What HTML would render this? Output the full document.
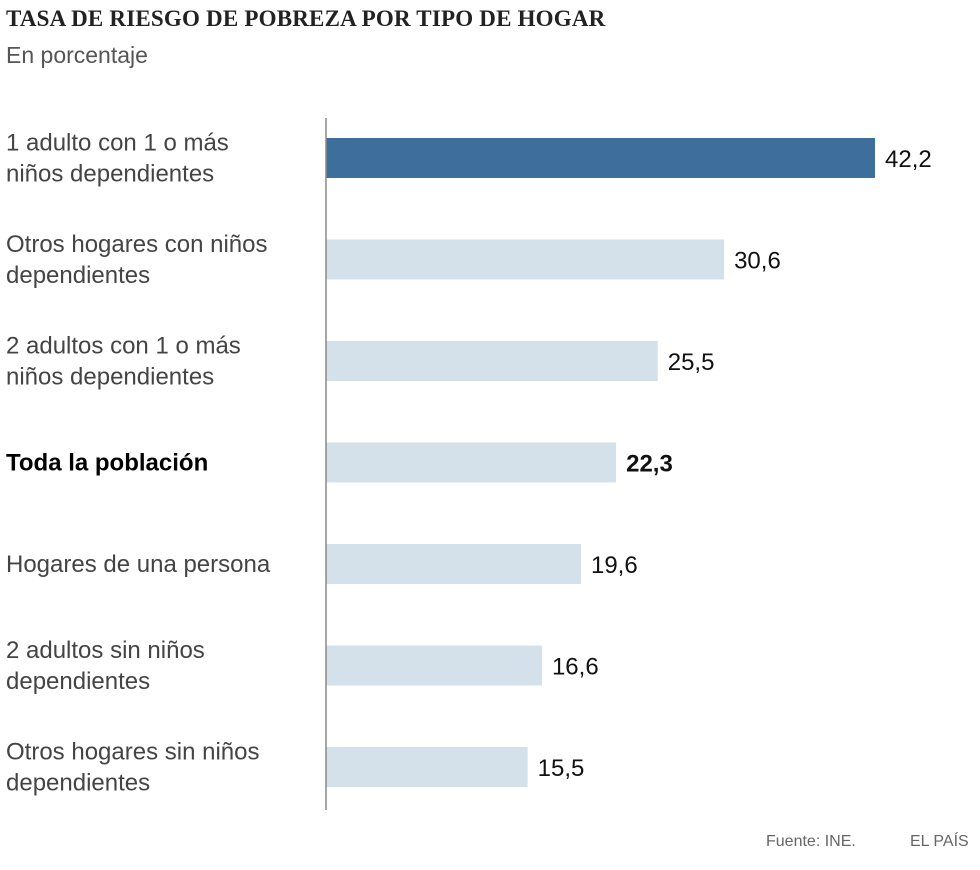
<!DOCTYPE html>
<html><head><meta charset="utf-8"><style>
body{margin:0;background:#fff;width:980px;height:870px;overflow:hidden;font-family:"Liberation Sans",sans-serif;}
.title{position:absolute;left:6px;top:6px;font-family:"Liberation Serif",serif;font-weight:bold;font-size:23px;color:#222;letter-spacing:0.2px}
.sub{position:absolute;left:6px;top:42px;font-size:23px;color:#555}
.foot{position:absolute;top:833px;font-size:16px;color:#666}
</style></head><body>
<div class="title">TASA DE RIESGO DE POBREZA POR TIPO DE HOGAR</div>
<div class="sub">En porcentaje</div>
<svg id="chart" width="980" height="830" style="position:absolute;left:0;top:0"></svg>
<div class="foot" style="left:766px">Fuente: INE.</div>
<div class="foot" style="left:910px">EL PAÍS</div>
<script>
const categories=[["1 adulto con 1 o más","niños dependientes"],["Otros hogares con niños","dependientes"],["2 adultos con 1 o más","niños dependientes"],["Toda la población"],["Hogares de una persona"],["2 adultos sin niños","dependientes"],["Otros hogares sin niños","dependientes"]];
const values=[42.2,30.6,25.5,22.3,19.6,16.6,15.5];
const valueLabels=["42,2","30,6","25,5","22,3","19,6","16,6","15,5"];
const svg=document.getElementById('chart');
const NS='http://www.w3.org/2000/svg';
const x0=326, scale=549/42.2;
const x=v=>x0+v*scale;
const yc=i=>158+i*101.5;
function mk(t,a){const e=document.createElementNS(NS,t);for(const k in a)e.setAttribute(k,a[k]);svg.appendChild(e);return e;}
values.forEach((v,i)=>{
  const bar=mk('rect',{x:x0,y:yc(i)-20,width:x(v)-x0,height:40,fill:i===0?'#3d6e9c':'#d5e1ea'});
  
  
  const bold=i===3;
  const t=mk('text',{x:x(v)+10,y:yc(i)+9,'font-size':24,fill:'#111','font-weight':bold?'bold':'normal','font-family':'Liberation Sans, sans-serif'});
  t.textContent=valueLabels[i];
  
  
  const lines=categories[i];
  lines.forEach((ln,j)=>{
    const yy=yc(i)+8+(j-(lines.length-1)/2)*31;
    const c=mk('text',{x:6,y:yy,'font-size':24,fill:bold?'#000':'#444','font-weight':bold?'bold':'normal','font-family':'Liberation Sans, sans-serif'});
    c.textContent=ln;
    
    
  });
});
const ax=mk('line',{x1:x0,y1:118,x2:x0,y2:810,stroke:'#888','stroke-width':1.5});


</script>
</body></html>
